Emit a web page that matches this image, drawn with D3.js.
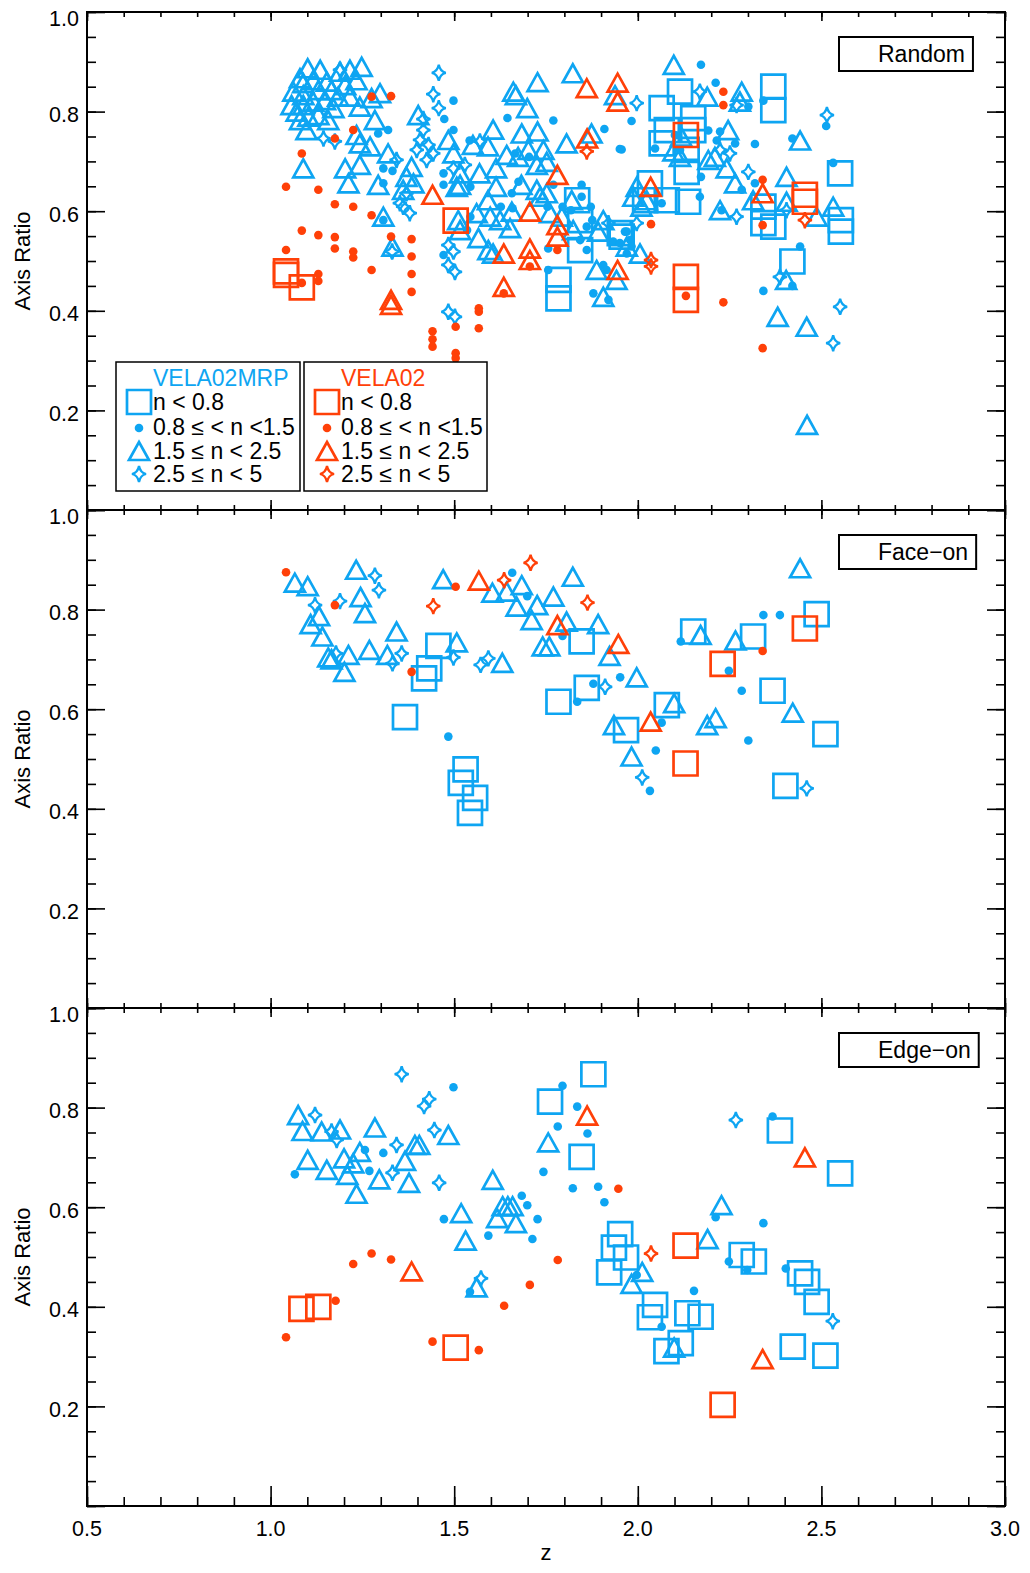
<!DOCTYPE html>
<html>
<head>
<meta charset="utf-8">
<script src="https://cdn.jsdelivr.net/npm/d3@7"></script>
<style>
  body { margin: 0; background: #fff; }
  svg { display: block; }
  text { font-family: "Liberation Sans", Arial, Helvetica, sans-serif; fill: #000; }
</style>
</head>
<body>
<svg id="chart" width="1030" height="1573"></svg>
<script>
// ---- axis setup ----
const zTicks = [0.5, 1.0, 1.5, 2.0, 2.5, 3.0];
const ratioTicks = [0.2, 0.4, 0.6, 0.8, 1.0];
const panelTitles = ["Random", "Face\u2212on", "Edge\u2212on"];
const seriesNames = ["VELA02MRP", "VELA02"];
const classLabels = ["n < 0.8", "0.8 \u2264 < n <1.5", "1.5 \u2264 n < 2.5", "2.5 \u2264 n < 5"];

// ---- Random projection: [z, axis ratio] ----
const randomBlueSquares = [
  [1.835,.622],[1.843,.582],[1.843,.522],[1.784,.462],[1.784,.425],[1.956,.549],[2.115,.840],[2.065,.807],
  [2.151,.787],[2.079,.763],[2.065,.736],[2.151,.763],[2.133,.723],[2.133,.679],[2.369,.850],[2.369,.803],
  [2.033,.656],[2.020,.622],[2.079,.622],[2.137,.619],[2.342,.609],[2.342,.576],[2.369,.569],[2.551,.676],
  [2.553,.582],[2.553,.559],[2.421,.499],[1.951,.556]
];
const randomBlueDots = [
  [1.320,.763],[1.293,.756],[1.498,.822],[1.473,.785],[1.498,.763],[1.307,.686],[1.332,.681],[1.307,.656],
  [1.471,.676],[1.471,.653],[1.307,.582],[1.471,.512],[1.645,.787],[1.770,.782],[1.909,.765],[1.951,.725],
  [1.983,.781],[1.542,.742],[1.666,.716],[1.704,.709],[1.544,.649],[1.657,.636],[1.675,.659],[1.770,.653],
  [1.847,.653],[1.847,.629],[1.627,.609],[1.659,.606],[1.754,.609],[1.795,.609],[1.818,.602],[1.872,.609],
  [1.876,.582],[1.861,.569],[1.861,.522],[1.843,.542],[1.756,.525],[1.756,.482],[1.879,.435],[1.920,.422],
  [1.933,.539],[1.951,.536],[1.906,.492],[1.915,.482],[1.970,.559],[1.979,.542],[1.983,.529],[1.544,.589],
  [1.535,.562],[2.172,.894],[2.212,.858],[2.301,.810],[2.342,.822],[2.192,.762],[2.224,.760],[2.215,.742],
  [2.265,.736],[2.319,.735],[2.421,.746],[2.047,.726],[2.101,.753],[2.115,.723],[1.956,.724],[2.172,.669],
  [2.169,.629],[2.065,.616],[2.283,.643],[2.319,.656],[2.228,.602],[2.442,.529],[2.421,.450],[2.342,.440],
  [2.513,.771],[2.532,.697],[1.965,.559],[1.970,.515]
];
const randomBlueTriangles = [
  [1.101,.887],[1.080,.867],[1.062,.840],[1.057,.813],[1.071,.800],[1.089,.857],[1.116,.863],[1.130,.843],
  [1.153,.860],[1.166,.843],[1.189,.880],[1.216,.884],[1.248,.890],[1.234,.863],[1.203,.853],[1.184,.830],
  [1.148,.823],[1.116,.820],[1.089,.813],[1.103,.790],[1.130,.793],[1.157,.783],[1.098,.763],[1.080,.783],
  [1.216,.830],[1.243,.810],[1.275,.827],[1.298,.837],[1.284,.783],[1.234,.753],[1.243,.736],[1.271,.730],
  [1.402,.793],[1.089,.686],[1.203,.686],[1.243,.693],[1.212,.656],[1.320,.716],[1.293,.653],[1.307,.589],
  [1.332,.529],[1.384,.689],[1.370,.669],[1.389,.656],[1.361,.643],[1.484,.743],[1.498,.716],[1.507,.649],
  [1.511,.582],[1.089,.833],[1.135,.884],[1.171,.807],[1.823,.877],[1.727,.859],[1.661,.840],[1.668,.833],
  [1.699,.807],[1.938,.833],[1.806,.736],[1.874,.756],[1.606,.764],[1.684,.756],[1.727,.760],[1.551,.733],
  [1.592,.730],[1.569,.676],[1.614,.686],[1.643,.713],[1.674,.709],[1.702,.723],[1.725,.693],[1.743,.723],
  [1.752,.699],[1.516,.676],[1.516,.653],[1.592,.622],[1.614,.649],[1.683,.653],[1.725,.643],[1.734,.629],
  [1.752,.636],[1.657,.599],[1.625,.582],[1.598,.589],[1.561,.596],[1.566,.546],[1.593,.522],[1.606,.515],
  [1.761,.596],[1.793,.589],[1.820,.622],[1.824,.562],[1.892,.559],[1.906,.582],[1.888,.482],[1.942,.462],
  [1.906,.428],[1.997,.649],[1.988,.629],[1.970,.529],[1.652,.566],[1.516,.562],[2.098,.894],[2.189,.830],
  [2.283,.840],[2.278,.820],[2.118,.750],[2.115,.709],[2.097,.720],[2.246,.763],[2.192,.703],[2.210,.709],
  [2.242,.686],[2.265,.656],[2.024,.622],[2.010,.609],[2.314,.622],[2.224,.602],[2.405,.619],[2.405,.669],
  [2.487,.589],[2.532,.609],[2.006,.515],[2.442,.742],[2.381,.388],[2.460,.368],[2.404,.462],[2.461,.171]
];
const randomBlueStars = [
  [1.458,.878],[1.443,.835],[1.458,.807],[1.416,.785],[1.416,.763],[1.407,.743],[1.430,.733],[1.398,.723],
  [1.443,.716],[1.425,.703],[1.343,.703],[1.370,.636],[1.361,.609],[1.379,.596],[1.352,.616],[1.484,.532],
  [1.498,.519],[1.484,.492],[1.502,.478],[1.484,.398],[1.502,.388],[1.189,.884],[1.175,.740],[1.144,.746],
  [1.331,.519],[1.997,.817],[1.920,.576],[1.570,.740],[1.529,.693],[1.498,.686],[2.169,.840],[2.269,.813],
  [2.224,.723],[2.251,.716],[2.301,.679],[2.269,.589],[2.515,.793],[2.387,.468],[2.551,.408],[2.532,.335],
  [1.997,.576],[2.405,.602]
];
const randomRedSquares = [
  [1.042,.479],[1.042,.472],[1.085,.447],[1.504,.581],[2.131,.753],[2.455,.633],[2.455,.619],[2.131,.468],[2.131,.422]
];
const randomRedDots = [
  [1.328,.831],[1.275,.830],[1.085,.716],[1.042,.649],[1.130,.643],[1.175,.614],[1.225,.609],[1.275,.592],
  [1.085,.561],[1.130,.552],[1.175,.548],[1.175,.525],[1.225,.519],[1.225,.507],[1.042,.522],[1.130,.474],
  [1.130,.460],[1.085,.456],[1.275,.482],[1.328,.549],[1.384,.544],[1.384,.509],[1.384,.474],[1.384,.438],
  [1.441,.359],[1.441,.343],[1.441,.328],[1.504,.368],[1.504,.315],[1.504,.305],[1.175,.746],[1.225,.763],
  [1.781,.522],[1.706,.489],[1.635,.435],[1.567,.405],[1.567,.398],[1.567,.365],[2.233,.840],[2.233,.813],
  [2.036,.574],[2.340,.663],[2.340,.572],[2.131,.430],[2.233,.417],[2.340,.325]
];
const randomRedTriangles = [
  [1.441,.633],[1.328,.422],[1.328,.412],[1.861,.847],[1.945,.858],[1.945,.820],[1.862,.746],[1.781,.673],
  [1.706,.599],[1.781,.572],[1.781,.549],[1.706,.525],[1.706,.502],[1.635,.515],[1.635,.448],[1.945,.482],
  [2.035,.649],[2.340,.636]
];
const randomRedStars = [[1.861,.720],[2.036,.502],[2.036,.489],[2.455,.582]];

// ---- Face-on projection ----
const faceBlueSquares = [
  [1.457,.727],[1.432,.682],[1.418,.662],[1.366,.584],[1.531,.479],[1.518,.452],[1.557,.422],[1.543,.392],
  [1.847,.736],[1.861,.643],[1.784,.615],[1.968,.558],[2.079,.608],[2.151,.756],[2.314,.746],[2.367,.637],
  [2.487,.791],[2.511,.550],[2.402,.446]
];
const faceBlueDots = [
  [1.658,.874],[1.699,.827],[1.484,.545],[1.795,.747],[1.879,.651],[1.952,.664],[1.835,.615],[2.065,.573],
  [2.049,.517],[2.033,.436],[2.117,.736],[2.248,.677],[2.283,.637],[2.301,.537],[2.342,.789],[2.387,.789]
];
const faceBlueTriangles = [
  [1.066,.854],[1.101,.847],[1.233,.880],[1.245,.825],[1.257,.793],[1.132,.787],[1.109,.771],[1.141,.746],
  [1.157,.704],[1.166,.700],[1.212,.709],[1.201,.675],[1.269,.719],[1.318,.709],[1.343,.756],[1.470,.861],
  [1.507,.734],[1.631,.693],[1.604,.834],[1.643,.836],[1.684,.849],[1.670,.806],[1.726,.809],[1.711,.779],
  [1.770,.826],[1.741,.726],[1.759,.726],[1.823,.866],[1.806,.776],[1.892,.771],[1.923,.707],[1.997,.664],
  [2.099,.612],[1.935,.568],[1.983,.505],[2.189,.568],[2.212,.582],[2.266,.738],[2.171,.749],[2.422,.593],
  [2.442,.883]
];
const faceBlueStars = [
  [1.284,.868],[1.295,.839],[1.121,.809],[1.189,.817],[1.178,.712],[1.357,.712],[1.332,.692],[1.498,.704],
  [1.593,.702],[1.572,.689],[1.911,.645],[2.012,.463],[2.460,.441]
];
const faceRedSquares = [[2.231,.691],[2.455,.762],[2.130,.491]];
const faceRedDots = [[1.042,.875],[1.175,.809],[1.504,.846],[1.384,.675],[2.340,.717]];
const faceRedTriangles = [[1.567,.858],[1.781,.769],[1.947,.731],[2.035,.575]];
const faceRedStars = [[1.708,.894],[1.636,.859],[1.443,.807],[1.863,.814]];

// ---- Edge-on projection ----
const edgeBlueSquares = [
  [1.761,.812],[1.879,.867],[1.847,.701],[1.952,.546],[1.935,.519],[1.968,.499],[1.922,.469],[2.047,.404],
  [2.033,.379],[2.135,.387],[2.171,.380],[2.117,.327],[2.078,.311],[2.283,.504],[2.316,.491],[2.387,.754],
  [2.442,.467],[2.461,.450],[2.487,.410],[2.422,.320],[2.511,.302],[2.551,.668]
];
const edgeBlueDots = [
  [1.498,.841],[1.066,.666],[1.257,.715],[1.307,.709],[1.269,.673],[1.472,.576],[1.593,.543],[1.684,.623],
  [1.699,.604],[1.727,.576],[1.713,.536],[1.743,.671],[1.782,.762],[1.543,.430],[1.795,.844],[1.835,.802],
  [1.863,.748],[1.823,.638],[1.892,.641],[1.909,.610],[2.212,.580],[2.342,.568],[2.248,.491],[2.298,.474],
  [1.997,.464],[2.153,.432],[2.065,.360],[2.403,.477],[2.367,.782]
];
const edgeBlueTriangles = [
  [1.075,.785],[1.087,.753],[1.139,.752],[1.189,.756],[1.284,.760],[1.101,.695],[1.153,.675],[1.200,.698],
  [1.209,.665],[1.234,.627],[1.243,.711],[1.225,.688],[1.296,.656],[1.366,.693],[1.377,.649],[1.393,.725],
  [1.405,.725],[1.484,.745],[1.605,.655],[1.519,.588],[1.531,.533],[1.617,.578],[1.632,.602],[1.646,.602],
  [1.659,.602],[1.668,.568],[1.561,.439],[1.756,.730],[2.228,.604],[2.190,.536],[2.012,.470],[1.983,.446],
  [2.099,.318]
];
const edgeBlueStars = [
  [1.357,.867],[1.432,.817],[1.418,.803],[1.121,.785],[1.166,.752],[1.180,.735],[1.446,.755],[1.343,.725],
  [1.332,.669],[1.459,.649],[1.573,.457],[2.267,.775],[2.531,.371]
];
const edgeRedSquares = [[1.084,.396],[1.130,.400],[1.504,.318],[2.130,.523],[2.231,.203]];
const edgeRedDots = [
  [1.225,.486],[1.275,.507],[1.328,.495],[1.177,.412],[1.042,.339],[1.441,.330],[1.567,.313],[1.706,.444],
  [1.636,.402],[1.782,.494],[1.947,.637]
];
const edgeRedTriangles = [[1.384,.471],[1.862,.784],[2.455,.700],[2.340,.295]];
const edgeRedStars = [[2.036,.507]];

// ---- drawing ----
const BLUE = "#0EA5F2";
const RED = "#FF4008";
const left = 87, right = 1005, top0 = 12, panelH = 498;

const svg = d3.select("#chart");
const x = d3.scaleLinear().domain([0.5, 3.0]).range([left, right]);

// marker path builders, sizes in pixels
function squarePath(s) { return `M${-s},${-s}H${s}V${s}H${-s}Z`; }
function trianglePath(w, h) { return `M${-w},${h}L0,${-h}L${w},${h}Z`; }
function starPath(w, h) {
  const c = 1.3;
  return `M0,${-h}Q${c},${-c} ${w},0Q${c},${c} 0,${h}Q${-c},${c} ${-w},0Q${-c},${-c} 0,${-h}Z`;
}

function drawMarker(g, kind, color, px, py) {
  if (kind === "dot") {
    g.append("circle").attr("cx", px).attr("cy", py).attr("r", 4.3).attr("fill", color);
    return;
  }
  let d;
  if (kind === "square") d = squarePath(12);
  else if (kind === "triangle") d = trianglePath(10, 9);
  else d = starPath(7, 8);
  g.append("path").attr("d", d)
    .attr("transform", `translate(${px},${py})`)
    .attr("fill", "none").attr("stroke", color)
    .attr("stroke-width", kind === "star" ? 2.3 : 2.7)
    .attr("stroke-linejoin", "miter");
}

const panels = [
  { title: panelTitles[0], groups: [
    ["square", BLUE, randomBlueSquares], ["dot", BLUE, randomBlueDots],
    ["triangle", BLUE, randomBlueTriangles], ["star", BLUE, randomBlueStars],
    ["square", RED, randomRedSquares], ["dot", RED, randomRedDots],
    ["triangle", RED, randomRedTriangles], ["star", RED, randomRedStars]] },
  { title: panelTitles[1], groups: [
    ["square", BLUE, faceBlueSquares], ["dot", BLUE, faceBlueDots],
    ["triangle", BLUE, faceBlueTriangles], ["star", BLUE, faceBlueStars],
    ["square", RED, faceRedSquares], ["dot", RED, faceRedDots],
    ["triangle", RED, faceRedTriangles], ["star", RED, faceRedStars]] },
  { title: panelTitles[2], groups: [
    ["square", BLUE, edgeBlueSquares], ["dot", BLUE, edgeBlueDots],
    ["triangle", BLUE, edgeBlueTriangles], ["star", BLUE, edgeBlueStars],
    ["square", RED, edgeRedSquares], ["dot", RED, edgeRedDots],
    ["triangle", RED, edgeRedTriangles], ["star", RED, edgeRedStars]] }
];

const zMinor = d3.range(0.5, 3.0001, 0.1).map(v => +v.toFixed(2));
const rMinor = d3.range(0, 1.0001, 0.05).map(v => +v.toFixed(2));
const rMajor = [0, 0.2, 0.4, 0.6, 0.8, 1.0];

function styleAxis(sel) {
  sel.select(".domain").remove();
  sel.selectAll(".tick line").attr("stroke", "#000").attr("stroke-width", 1.6);
  sel.selectAll(".tick text").remove();
}

panels.forEach((p, i) => {
  const top = top0 + i * panelH;
  const bottom = top + panelH;
  const y = d3.scaleLinear().domain([0, 1]).range([bottom, top]);
  const g = svg.append("g");

  // markers
  const mg = g.append("g");
  p.groups.forEach(([kind, color, data]) => {
    data.forEach(([z, q]) => drawMarker(mg, kind, color, x(z), y(q)));
  });

  // ticks on all four sides, pointing inward
  const bottomLen = i === 2 ? [20, 9] : [10, 5];
  g.append("g").attr("transform", `translate(0,${bottom})`)
    .call(d3.axisBottom(x).tickValues(zMinor).tickSize(-bottomLen[1])).call(styleAxis);
  g.append("g").attr("transform", `translate(0,${bottom})`)
    .call(d3.axisBottom(x).tickValues(zTicks).tickSize(-bottomLen[0])).call(styleAxis);
  g.append("g").attr("transform", `translate(0,${top})`)
    .call(d3.axisTop(x).tickValues(zMinor).tickSize(-5)).call(styleAxis);
  g.append("g").attr("transform", `translate(0,${top})`)
    .call(d3.axisTop(x).tickValues(zTicks).tickSize(-9)).call(styleAxis);
  g.append("g").attr("transform", `translate(${left},0)`)
    .call(d3.axisLeft(y).tickValues(rMinor).tickSize(-9)).call(styleAxis);
  g.append("g").attr("transform", `translate(${left},0)`)
    .call(d3.axisLeft(y).tickValues(rMajor).tickSize(-18)).call(styleAxis);
  g.append("g").attr("transform", `translate(${right},0)`)
    .call(d3.axisRight(y).tickValues(rMinor).tickSize(-9)).call(styleAxis);
  g.append("g").attr("transform", `translate(${right},0)`)
    .call(d3.axisRight(y).tickValues(rMajor).tickSize(-18)).call(styleAxis);

  // frame
  g.append("rect").attr("x", left).attr("y", top)
    .attr("width", right - left).attr("height", panelH)
    .attr("fill", "none").attr("stroke", "#000").attr("stroke-width", 2);

  // y tick labels
  ratioTicks.forEach(v => {
    g.append("text").attr("x", 79).attr("y", y(v) + (v === 1.0 ? 14 : 10.5))
      .attr("text-anchor", "end").attr("font-size", 21.5).text(v.toFixed(1));
  });

  // y axis title
  const cy = (top + bottom) / 2;
  g.append("text").attr("transform", `translate(30,${cy}) rotate(-90)`)
    .attr("text-anchor", "middle").attr("font-size", 22).text("Axis Ratio");

  // panel title box
  const tt = g.append("text").attr("x", 878).attr("y", top + 50)
    .attr("font-size", 23).text(p.title);
  const tw = tt.node().getComputedTextLength();
  g.insert("rect", "text").attr("x", 839).attr("y", top + 25)
    .attr("width", 878 + tw + 8 - 839).attr("height", 34)
    .attr("fill", "#fff").attr("stroke", "#000").attr("stroke-width", 2);

  // legend in the first panel
  if (i === 0) {
    const boxes = [
      { x0: 116, x1: 300, color: BLUE, sx: 139, tx: 153 },
      { x0: 304, x1: 487, color: RED, sx: 327, tx: 341 }
    ];
    const kinds = ["square", "dot", "triangle", "star"];
    const rowY = [402, 427, 451, 474];
    boxes.forEach((b, k) => {
      const lg = g.append("g");
      lg.append("rect").attr("x", b.x0).attr("y", 362).attr("width", b.x1 - b.x0).attr("height", 129)
        .attr("fill", "#fff").attr("stroke", "#000").attr("stroke-width", 1.5);
      lg.append("text").attr("x", b.tx).attr("y", 386).attr("font-size", 23)
        .style("fill", b.color).text(seriesNames[k]);
      kinds.forEach((kind, r) => {
        drawMarker(lg, kind, b.color, b.sx, rowY[r] + (kind === "dot" ? 1 : 0));
        lg.append("text").attr("x", b.tx).attr("y", rowY[r] + 8).attr("font-size", 23)
          .text(classLabels[r]);
      });
    });
  }
});

// x tick labels and title under the last panel
const xb = top0 + 3 * panelH;
zTicks.forEach(v => {
  svg.append("text").attr("x", x(v)).attr("y", xb + 30).attr("text-anchor", "middle")
    .attr("font-size", 21.5).text(v.toFixed(1));
});
svg.append("text").attr("x", x(1.75)).attr("y", xb + 54).attr("text-anchor", "middle")
  .attr("font-size", 22).text("z");
</script>
</body>
</html>
